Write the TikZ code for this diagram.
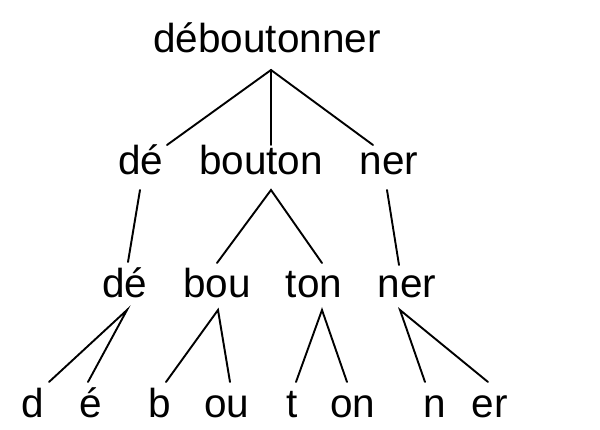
\documentclass[tikz,border=0pt]{standalone}
\usepackage{fontspec}
\setmainfont{Liberation Sans}
\begin{document}
\begin{tikzpicture}[x=1pt,y=1pt,
  wd/.style={anchor=base,inner sep=0pt,font=\fontsize{40.5}{48}\selectfont},
  br/.style={line width=1.9pt,line cap=round}]
\useasboundingbox (0,0) rectangle (600,430);
% row 1
\node[wd] (w) at (267,377) {déboutonner};
% row 2
\node[wd] (a1) at (141,255) {dé};
\node[wd] (a2) at (261,255) {bouton};
\node[wd] (a3) at (389,255) {ner};
% row 3
\node[wd] (b1) at (125,132) {dé};
\node[wd] (b2) at (217,132) {bou};
\node[wd] (b3) at (314,132) {ton};
\node[wd] (b4) at (407,132) {ner};
% row 4
\node[wd] (c1) at (33,12) {d};
\node[wd] (c2) at (91,12) {é};
\node[wd] (c3) at (160,12) {b};
\node[wd] (c4) at (227,12) {ou};
\node[wd] (c5) at (292,12) {t};
\node[wd] (c6) at (353,12) {on};
\node[wd] (c7) at (435,12) {n};
\node[wd] (c8) at (490,12) {er};
% connectors
\draw[br] ([shift={(26pt,30pt)}]a1.base) -- ([shift={(4pt,-17pt)}]w.base) -- ([shift={(-16pt,30pt)}]a3.base);
\draw[br] ([shift={(4pt,-17pt)}]w.base) -- ([shift={(10pt,30pt)}]a2.base);
\draw[br] ([shift={(-1pt,-15pt)}]a1.base) -- ([shift={(3pt,36pt)}]b1.base);
\draw[br] ([shift={(0pt,35pt)}]b2.base) -- ([shift={(10pt,-15pt)}]a2.base) -- ([shift={(8pt,35pt)}]b3.base);
\draw[br] ([shift={(-2pt,-15pt)}]a3.base) -- ([shift={(-8pt,33pt)}]b4.base);
\draw[br] ([shift={(16pt,36pt)}]c1.base) -- ([shift={(2pt,-12pt)}]b1.base) -- ([shift={(-3pt,36pt)}]c2.base);
\draw[br] ([shift={(6pt,36pt)}]c3.base) -- ([shift={(1pt,-12pt)}]b2.base) -- ([shift={(3pt,36pt)}]c4.base);
\draw[br] ([shift={(4pt,36pt)}]c5.base) -- ([shift={(8pt,-12pt)}]b3.base) -- ([shift={(-6pt,36pt)}]c6.base);
\draw[br] ([shift={(-10pt,36pt)}]c7.base) -- ([shift={(-7pt,-12pt)}]b4.base) -- ([shift={(-2pt,36pt)}]c8.base);
\end{tikzpicture}
\end{document}
